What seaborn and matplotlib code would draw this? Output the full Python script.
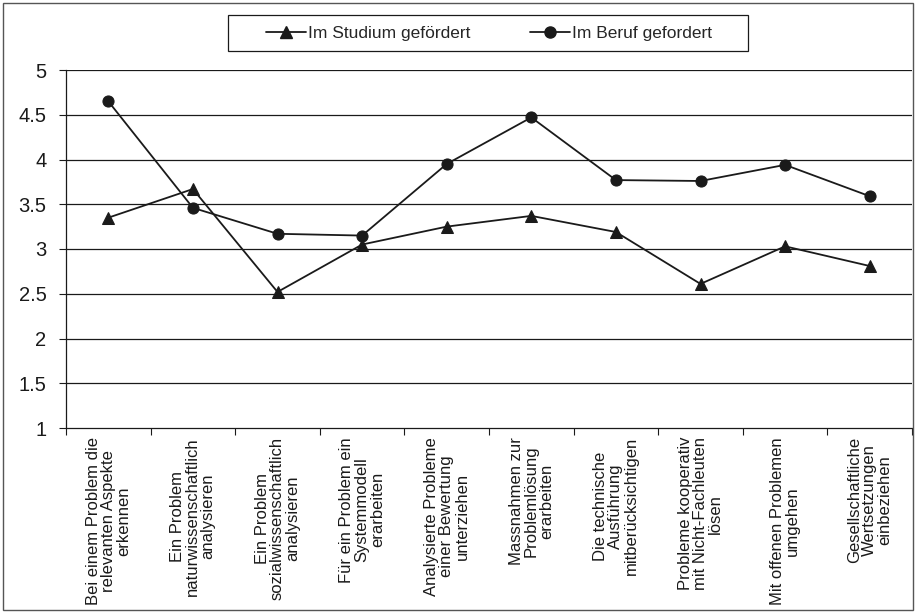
import numpy as np
import pandas as pd
import matplotlib.pyplot as plt
import matplotlib.patches as mpatches
import seaborn as sns

# ── Data ────────────────────────────────────────────────────────────────────────
CATEGORIES = [
    'Bei einem Problem die\nrelevanten Aspekte\nerkennen',
    'Ein Problem\nnaturwissenschaftlich\nanalysieren',
    'Ein Problem\nsozialwissenschaftlich\nanalysieren',
    'Für ein Problem ein\nSystemmodell\nerarbeiten',
    'Analysierte Probleme\neiner Bewertung\nunterziehen',
    'Massnahmen zur\nProblemlösung\nerarbeiten',
    'Die technische\nAusführung\nmitberücksichtigen',
    'Probleme kooperativ\nmit Nicht-Fachleuten\nlösen',
    'Mit offenen Problemen\numgehen',
    'Gesellschaftliche\nWertsetzungen\neinbeziehen',
]
STUDIUM = [3.35, 3.67, 2.52, 3.05, 3.25, 3.37, 3.19, 2.61, 3.03, 2.81]
BERUF   = [4.65, 3.46, 3.17, 3.15, 3.95, 4.47, 3.77, 3.76, 3.94, 3.59]
SERIES  = ['Im Studium gefördert', 'Im Beruf gefordert']
YTICKS  = [1, 1.5, 2, 2.5, 3, 3.5, 4, 4.5, 5]

# ── Style ───────────────────────────────────────────────────────────────────────
sns.set_theme(style='white')
plt.rcParams['font.family'] = ['Liberation Sans', 'DejaVu Sans']

INK = '#1a1a1a'

df = pd.DataFrame({
    'pos':    list(range(len(CATEGORIES))) * 2,
    'value':  STUDIUM + BERUF,
    'series': [SERIES[0]] * len(STUDIUM) + [SERIES[1]] * len(BERUF),
})

fig = plt.figure(figsize=(9.19, 6.13), dpi=100)
ax = fig.add_axes([66 / 919, 1 - 428 / 613, (912 - 66) / 919, (428 - 70) / 613])

sns.lineplot(data=df, x='pos', y='value', hue='series', style='series',
             palette={s: INK for s in SERIES},
             markers={SERIES[0]: '^', SERIES[1]: 'o'}, dashes=False,
             markersize=8, markeredgecolor=INK, linewidth=1.3,
             legend=False, ax=ax, zorder=3)

# grid + axes
for y in YTICKS[1:]:
    ax.axhline(y, color=INK, linewidth=0.9, zorder=1)
ax.set_xlim(-0.5, len(CATEGORIES) - 0.5)
ax.set_ylim(1, 5)
ax.set_yticks(YTICKS)
ax.set_yticklabels([f'{v:g}' for v in YTICKS], fontsize=14.5, color=INK)
ax.set_xticks(np.arange(len(CATEGORIES) + 1) - 0.5)
ax.set_xticklabels([])
ax.tick_params(axis='both', which='both', direction='out', length=5,
               width=0.8, color=INK, left=True, bottom=True)
ax.tick_params(axis='y', pad=9)
for s in ['top', 'right']:
    ax.spines[s].set_visible(False)
for s in ['left', 'bottom']:
    ax.spines[s].set_color(INK)
    ax.spines[s].set_linewidth(0.9)
ax.set_xlabel('')
ax.set_ylabel('')

# category labels, rotated
for i, lab in enumerate(CATEGORIES):
    ax.text(i, -0.025, lab, transform=ax.get_xaxis_transform(),
            rotation=90, ha='center', va='top', multialignment='center',
            fontsize=12, color=INK, linespacing=1.02)

# legend (frame drawn separately so it can be wider than the entries)
handles = [
    plt.Line2D([], [], color=INK, marker='^', markersize=8, linewidth=1.3),
    plt.Line2D([], [], color=INK, marker='o', markersize=8, linewidth=1.3),
]
fig.legend(handles, SERIES, loc='center', bbox_to_anchor=(489 / 919, 1 - 33 / 613),
           ncol=2, frameon=False, fontsize=12.5,
           handlelength=2.3, handletextpad=0.15, columnspacing=3.4,
           borderpad=0, borderaxespad=0)
fig.patches.append(mpatches.Rectangle((228 / 919, 1 - 51 / 613), 520 / 919, 36 / 613,
                                      transform=fig.transFigure, fill=False,
                                      edgecolor=INK, linewidth=0.9))

# outer frame
fig.patches.append(mpatches.Rectangle((3 / 919, 3 / 613), 910 / 919, 607 / 613,
                                      transform=fig.transFigure, fill=False,
                                      edgecolor='#555555', linewidth=1.0))

fig.savefig('out.png', dpi=100, facecolor='white')
